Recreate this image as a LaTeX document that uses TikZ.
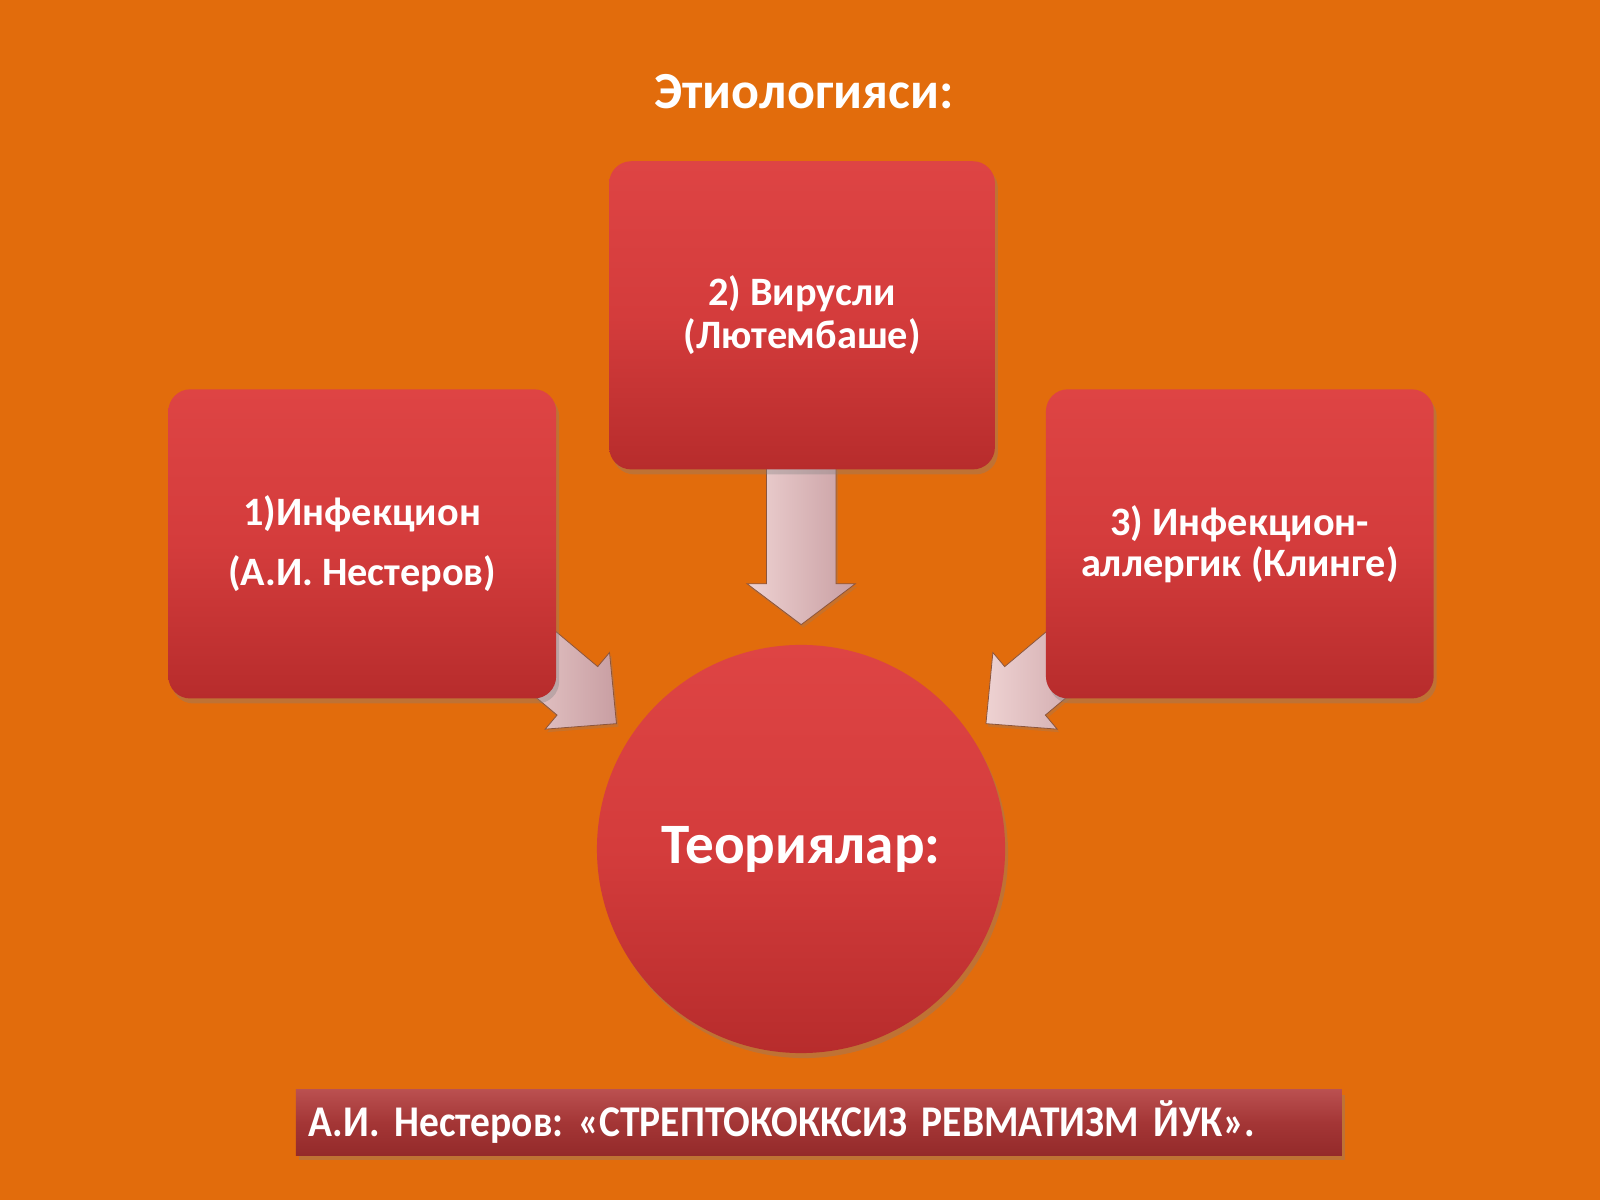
\documentclass[tikz,border=0pt]{standalone}
\usepackage{fontspec}
\setmainfont{Carlito}
\newfontfamily\condfont[FakeStretch=0.9]{Carlito}
\usetikzlibrary{shadows,calc}
\definecolor{bg}{RGB}{226,108,12}
\definecolor{boxtop}{RGB}{222,68,68}
\definecolor{boxmid}{RGB}{212,60,60}
\definecolor{boxbot}{RGB}{183,44,44}
\definecolor{arrlight}{RGB}{238,210,210}
\definecolor{arrdark}{RGB}{200,158,162}
\definecolor{arredge}{RGB}{140,85,60}
\definecolor{bartop}{RGB}{186,80,80}
\definecolor{barmid}{RGB}{164,54,54}
\definecolor{barbot}{RGB}{148,42,42}
\tikzset{
  redbox/.style={rectangle, rounded corners=22pt, minimum width=380pt, minimum height=303pt,
    top color=boxtop, bottom color=boxbot, middle color=boxmid, draw=none,
    drop shadow={opacity=0.35, shadow xshift=3pt, shadow yshift=-5pt},
    text=white, align=center, font=\bfseries\fontsize{39.5}{42}\selectfont},
  blockarrow/.style={left color=arrlight, right color=arrdark, draw=arredge, line width=0.8pt,
    line join=miter, drop shadow={opacity=0.25, shadow xshift=2pt, shadow yshift=-3pt}}
}
% #1 tip, #2 angle, #3 length, #4 shaft width, #5 head width, #6 head length
\newcommand{\myblockarrow}[6]{%
  \begin{scope}[shift={#1}, rotate=#2]
    \path[blockarrow] (0,0) -- (-#6,#5/2) -- (-#6,#4/2) -- (-#3,#4/2) -- (-#3,-#4/2)
      -- (-#6,-#4/2) -- (-#6,-#5/2) -- cycle;
  \end{scope}}
\begin{document}
\begin{tikzpicture}[x=1pt,y=-1pt,scale=1.0204,every node/.append style={transform shape}]
\fill[bg] (0,0) rectangle (1568,1176);
\useasboundingbox (0,0) rectangle (1568,1176);
\frenchspacing

% title
\node[text=white, font=\bfseries\fontsize{51}{60}\selectfont] (title) at (788,90) {Этиологияси:};

% block arrows (behind boxes)
\coordinate (tipdown) at (785,612);
\coordinate (tipleft) at (604,709);
\coordinate (tipright) at (966,709);
\myblockarrow{(tipdown)}{-90}{154}{68}{106}{40}
\myblockarrow{(tipleft)}{-40}{130}{62}{98}{50}
\myblockarrow{(tipright)}{-140}{130}{62}{98}{50}

% boxes
\node[redbox, minimum width=378pt, minimum height=302pt] (virus) at (786,309)
  {2) Вирусли\\(Лютембаше)};
\node[redbox] (infect) at (355,533)
  {1)Инфекцион\\[17pt](А.И. Нестеров)};
\node[redbox] (allerg) at (1215,533)
  {3) Инфекцион-\\[-2pt]аллергик (Клинге)};

% circle
\node[circle, minimum size=400pt, inner sep=0pt, draw=none,
  top color=boxtop, bottom color=boxbot, middle color=boxmid,
  drop shadow={opacity=0.35, shadow xshift=3pt, shadow yshift=-5pt},
  text=white, font=\bfseries\fontsize{56}{64}\selectfont] (theory) at (785,832) {Теориялар:};

% bottom bar
\node[rectangle, minimum width=1025pt, minimum height=64pt, text width=1000pt,
  inner xsep=12.5pt, align=left, top color=bartop, bottom color=barbot, middle color=barmid,
  draw=none, drop shadow={opacity=0.35, shadow xshift=3pt, shadow yshift=-5pt},
  text=white, font=\condfont\bfseries\fontsize{43}{48}\selectfont] (bar) at (802.5,1100)
  {А.И. Нестеров: «СТРЕПТОКОККСИЗ РЕВМАТИЗМ ЙУК».};
\end{tikzpicture}
\end{document}
